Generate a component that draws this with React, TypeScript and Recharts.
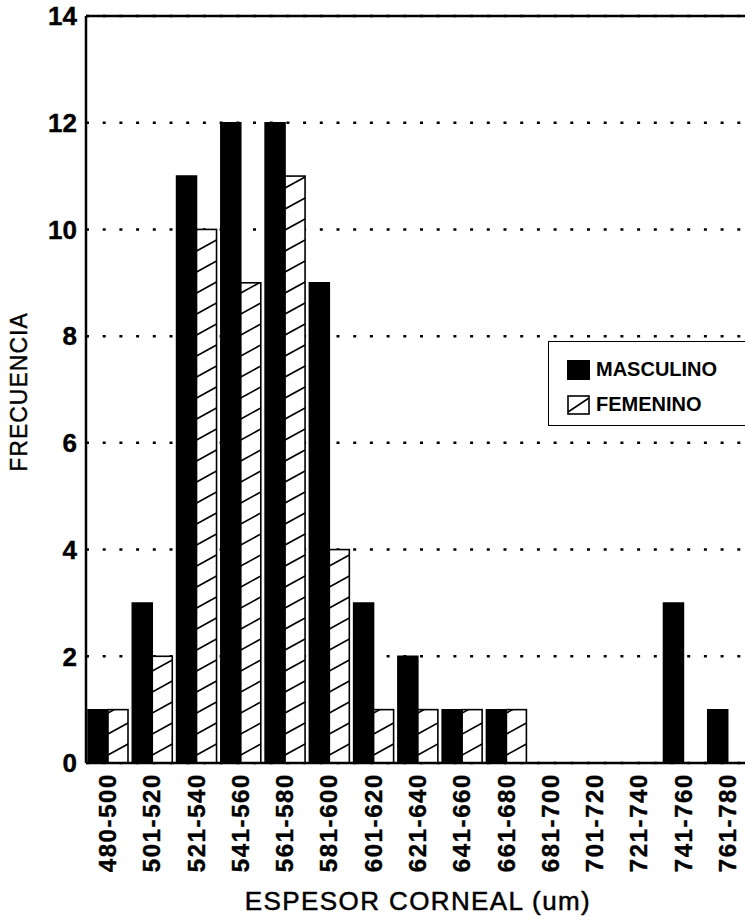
import { BarChart, Bar, XAxis, YAxis, CartesianGrid, ReferenceLine, Legend, Label } from 'recharts';

const categories = [
  '480-500', '501-520', '521-540', '541-560', '561-580', '581-600', '601-620', '621-640',
  '641-660', '661-680', '681-700', '701-720', '721-740', '741-760', '761-780',
];
const masculino = [1, 3, 11, 12, 12, 9, 3, 2, 1, 1, 0, 0, 0, 3, 1];
const femenino = [1, 2, 10, 9, 11, 4, 1, 1, 1, 1, 0, 0, 0, 0, 0];
const yTicks = [0, 2, 4, 6, 8, 10, 12, 14];

const FONT = '"Liberation Sans", Arial, Helvetica, sans-serif';

const data = categories.map((c, i) => ({ rango: c, masculino: masculino[i], femenino: femenino[i] }));

function XTick({ x, y, payload }: { x?: number; y?: number; payload?: { value: string } }) {
  const tx = (x ?? 0) + 8;
  const ty = (y ?? 0) + 10;
  return (
    <text
      x={tx}
      y={ty}
      transform={`rotate(-90, ${tx}, ${ty})`}
      textAnchor="end"
      fill="#000"
      stroke="#000"
      strokeWidth={0.4}
      fontFamily={FONT}
      fontWeight="bold"
      fontSize={24}
      letterSpacing={1.6}
    >
      {payload?.value}
    </text>
  );
}

// hatched bar for the female series
function HatchBar(props: { x?: number; y?: number; width?: number; height?: number; index?: number }) {
  const { x = 0, y = 0, width = 0, height = 0, index = 0 } = props;
  if (height <= 0) return null;
  const id = `hatch-clip-${index}`;
  const bottom = y + height;
  const spacing = 21;
  const rise = 11;
  const lines = [];
  for (let k = 0; bottom - 8 - k * spacing > y - rise; k++) {
    const y0 = bottom - 8 - k * spacing;
    lines.push(<line key={k} x1={x} y1={y0} x2={x + width} y2={y0 - rise} stroke="#000" strokeWidth={1.6} />);
  }
  return (
    <g>
      <defs>
        <clipPath id={id}>
          <rect x={x} y={y} width={width} height={height} />
        </clipPath>
      </defs>
      <rect x={x} y={y} width={width} height={height} fill="#fff" />
      <g clipPath={`url(#${id})`}>{lines}</g>
      <rect x={x} y={y} width={width} height={height} fill="none" stroke="#000" strokeWidth={1.6} />
    </g>
  );
}

function LegendBox() {
  return (
    <div
      style={{
        border: '1.5px solid #000',
        width: 220,
        height: 85,
        boxSizing: 'border-box',
        background: '#fff',
        fontFamily: FONT,
        fontWeight: 'bold',
        fontSize: 20,
        color: '#000',
        position: 'relative',
      }}
    >
      <div style={{ position: 'absolute', left: 18, top: 16, display: 'flex', alignItems: 'center' }}>
        <svg width={23} height={20}>
          <rect x={0} y={0} width={23} height={20} fill="#000" />
        </svg>
        <span style={{ marginLeft: 6 }}>MASCULINO</span>
      </div>
      <div style={{ position: 'absolute', left: 18, top: 51, display: 'flex', alignItems: 'center' }}>
        <svg width={23} height={20}>
          <rect x={1} y={1} width={21} height={18} fill="#fff" stroke="#000" strokeWidth={1.6} />
          <line x1={1} y1={17} x2={22} y2={3} stroke="#000" strokeWidth={1.6} />
        </svg>
        <span style={{ marginLeft: 6 }}>FEMENINO</span>
      </div>
    </div>
  );
}

export default function App() {
  return (
    <div style={{ position: 'absolute', left: 0, top: 0, width: 745, height: 921, overflow: 'hidden', background: '#fff' }}>
      <BarChart
        width={760}
        height={921}
        data={data}
        margin={{ top: 16, right: 10, left: 0, bottom: 0 }}
        barCategoryGap={2}
        barGap={0}
      >
        <CartesianGrid
          horizontal
          vertical={false}
          stroke="#000"
          strokeWidth={2.5}
          strokeDasharray="3 13.7"
        />
        <XAxis
          dataKey="rango"
          height={158}
          interval={0}
          tick={<XTick />}
          tickLine={false}
          tickSize={0}
          tickMargin={0}
          axisLine={{ stroke: '#000', strokeWidth: 2.5 }}
        >
          <Label
            value="ESPESOR CORNEAL (um)"
            position="insideBottom"
            offset={11}
            fill="#000"
            stroke="#000"
            strokeWidth={0.5}
            fontFamily={FONT}
            fontSize={26}
            letterSpacing={1.4}
          />
        </XAxis>
        <YAxis
          width={86}
          domain={[0, 14]}
          ticks={yTicks}
          interval={0}
          tickLine={false}
          tickSize={0}
          tickMargin={9}
          axisLine={{ stroke: '#000', strokeWidth: 2.5 }}
          tick={{ fill: '#000', stroke: '#000', strokeWidth: 0.4, fontSize: 26, fontWeight: 'bold', fontFamily: FONT }}
        >
          <Label
            content={() => (
              <text
                x={27}
                y={392}
                transform="rotate(-90, 27, 392)"
                textAnchor="middle"
                fill="#000"
                stroke="#000"
                strokeWidth={0.4}
                fontFamily={FONT}
                fontSize={23}
                letterSpacing={1}
              >
                FRECUENCIA
              </text>
            )}
          />
        </YAxis>
        <ReferenceLine y={14} stroke="#000" strokeWidth={2.5} />
        <Legend
          layout="vertical"
          align="center"
          verticalAlign="middle"
          content={<LegendBox />}
          wrapperStyle={{ position: 'absolute', left: 548, top: 341, width: 220 }}
        />
        <Bar dataKey="masculino" name="MASCULINO" fill="#000" stroke="#000" strokeWidth={1.5} isAnimationActive={false} />
        <Bar dataKey="femenino" name="FEMENINO" shape={<HatchBar />} isAnimationActive={false} />
      </BarChart>
    </div>
  );
}
